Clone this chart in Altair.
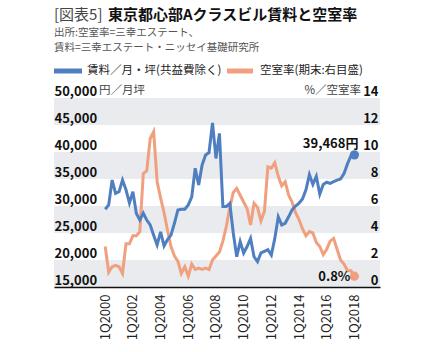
import altair as alt
import pandas as pd

FONT = "Noto Sans CJK JP"

# ---- data (quarterly, 1Q2000 .. 1Q2018) ----
years = list(range(2000, 2019))
quarters = [f"{q}Q{y}" for y in years for q in (1, 2, 3, 4)][:73]
t_values = [int(s[2:]) + (int(s[0]) - 1) / 4 for s in quarters]

rent = [
    29400, 30200, 34800, 32350, 32650, 34800, 33000, 30550, 32650, 28600,
    27400, 28700, 27400, 26500, 24600, 22800, 25200, 22600, 23800, 24600,
    26800, 29260, 29400, 29400, 30200, 31700, 37000, 33900, 37600, 39450,
    39900, 45400, 38800, 43450, 29900, 29900, 30500, 25000, 20600, 23400,
    21300, 22500, 24000, 20600, 19700, 21300, 21600, 21900, 20900, 24000,
    28000, 26500, 26800, 28000, 29300, 30000, 30500, 31300, 33000, 35800,
    34000, 35500, 32200, 34000, 34400, 34200, 34500, 34800, 35000, 36000,
    37800, 39300, 39468,
]
vacancy = [
    3.0, 1.1, 1.5, 1.6, 1.5, 1.0, 3.2, 3.2, 3.8, 3.8,
    4.1, 8.4, 8.6, 11.0, 11.5, 7.8, 6.6, 5.5, 4.2, 3.0,
    2.3, 1.9, 1.0, 1.5, 0.8, 1.7, 1.3, 1.4, 1.3, 1.4,
    1.3, 2.0, 2.3, 2.6, 3.4, 4.5, 5.9, 7.0, 7.3, 6.8,
    6.3, 5.8, 4.6, 6.2, 5.9, 4.9, 5.6, 8.9, 8.8, 9.2,
    8.2, 7.5, 7.8, 6.8, 6.3, 5.5, 5.0, 4.3, 3.8, 4.1,
    4.0, 3.3, 3.0, 2.4, 2.8, 3.4, 3.6, 2.8, 2.0, 1.7,
    1.2, 1.2, 0.8,
]
rent_ticks = list(range(15000, 50001, 5000))
vac_ticks = list(range(0, 15, 2))
x_ticks = list(range(2000, 2019, 2))
band_lo = [15000, 25000, 35000, 45000]
band_hi = [20000, 30000, 40000, 50000]

df = pd.DataFrame({"quarter": quarters, "t": t_values, "rent": rent, "vacancy": vacancy})
last = df.tail(1).copy()
last["rent_label"] = f"{rent[-1]:,}円"
last["vac_label"] = f"{vacancy[-1]}%"
bands = pd.DataFrame({"lo": band_lo, "hi": band_hi})

W, H = 326, 189
BLUE = "#4f7fc0"
ORANGE = "#f0a07e"

xs = alt.Scale(domain=[1996.3, 2019.85], nice=False, zero=False)
yr = alt.Scale(domain=[15000, 50000], nice=False, zero=False)
yv = alt.Scale(domain=[0, 14], nice=False, zero=False)

x_axis = alt.Axis(
    values=x_ticks, labelExpr="'1Q' + datum.value", labelAngle=270,
    title=None, grid=False, ticks=False, tickSize=0, labelPadding=7,
    domain=True, domainColor="#111", domainWidth=1.5, zindex=2,
    labelFontSize=13, labelColor="#222", labelFont=FONT, labelOverlap=False,
)
rent_axis = alt.Axis(
    values=rent_ticks, format=",.0f", orient="left", title=None,
    labelAlign="left", labelBaseline="bottom", labelPadding=0,
    domain=False, ticks=False, tickSize=0, grid=False, zindex=2,
    labelFontWeight="bold", labelFontSize=13, labelColor="#111",
    labelFont=FONT, labelOverlap=False,
)
vac_axis = alt.Axis(
    values=vac_ticks, format=".0f", orient="right", title=None,
    labelAlign="right", labelBaseline="bottom", labelPadding=-2,
    domain=False, ticks=False, tickSize=0, grid=False, zindex=2,
    labelFontWeight="bold", labelFontSize=13, labelColor="#111",
    labelFont=FONT, labelOverlap=False,
)


def X():
    return alt.X("t:Q", scale=xs, axis=x_axis)


def YR():
    return alt.Y("rent:Q", scale=yr, axis=rent_axis)


def YV():
    return alt.Y("vacancy:Q", scale=yv, axis=vac_axis)


band_layer = alt.Chart(bands).mark_rect(color="#e9ebee").encode(
    x=alt.value(0), x2=alt.value(W),
    y=alt.Y("lo:Q", scale=yr, axis=None), y2="hi:Q",
)

rent_line = alt.Chart(df).mark_line(color=BLUE, strokeWidth=3).encode(x=X(), y=YR())
rent_dot = alt.Chart(last).mark_circle(color=BLUE, size=85, opacity=1).encode(x=X(), y=YR())
rent_txt = alt.Chart(last).mark_text(
    align="right", baseline="middle", dx=4, dy=-11, fontSize=13,
    fontWeight="bold", color="#111", font=FONT,
).encode(x=X(), y=YR(), text="rent_label:N")

vac_line = alt.Chart(df).mark_line(color=ORANGE, strokeWidth=3).encode(x=X(), y=YV())
vac_dot = alt.Chart(last).mark_circle(color=ORANGE, size=85, opacity=1).encode(x=X(), y=YV())
vac_txt = alt.Chart(last).mark_text(
    align="right", baseline="middle", dx=-4, dy=1, fontSize=13,
    fontWeight="bold", color="#111", font=FONT,
).encode(x=X(), y=YV(), text="vac_label:N")

left = alt.layer(rent_line, rent_dot, rent_txt)
right = alt.layer(vac_line, vac_dot, vac_txt)


def txt(s, x, y, size=11, weight="normal", color="#333", align="left"):
    return alt.Chart(pd.DataFrame({"s": [s]})).mark_text(
        align=align, baseline="middle", fontSize=size, fontWeight=weight,
        color=color, font=FONT,
    ).encode(x=alt.value(x), y=alt.value(y), text="s:N")


def swatch(x1, x2, y, color):
    return alt.Chart(pd.DataFrame({"s": [0]})).mark_rule(
        color=color, strokeWidth=5).encode(
        x=alt.value(x1), x2=alt.value(x2), y=alt.value(y))


deco = alt.layer(
    txt("[図表5]", 0, -83, 15, "normal", "#444"),
    txt("東京都心部Aクラスビル賃料と空室率", 54, -83, 15, "bold", "#111"),
    txt("出所:空室率=三幸エステート、", 0, -65, 10.5, "normal", "#555"),
    txt("賃料=三幸エステート・ニッセイ基礎研究所", 0, -50, 10.5, "normal", "#555"),
    swatch(0, 28, -27, BLUE),
    txt("賃料／月・坪(共益費除く)", 33, -27, 11.5, "normal", "#222"),
    swatch(173, 199, -27, ORANGE),
    txt("空室率(期末:右目盛)", 206, -27, 11.5, "normal", "#222"),
    txt("円／月坪", 45, -7, 11.5, "normal", "#444"),
    txt("%／空室率", 307, -7, 11.5, "normal", "#444", "right"),
)

chart = alt.layer(band_layer, right, left, deco).resolve_scale(y="independent").properties(
    width=W, height=H,
    autosize=alt.AutoSizeParams(type="none"),
    padding={"left": 54, "top": 98, "right": 49, "bottom": 65},
    background="white",
).configure_view(stroke=None)

chart.save("out.html", embed_options={"renderer": "svg", "actions": False})
